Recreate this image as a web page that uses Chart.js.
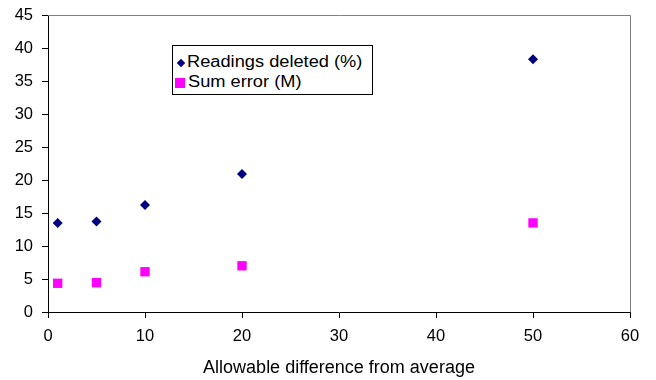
<!DOCTYPE html>
<html><head><meta charset="utf-8">
<script src="https://cdn.jsdelivr.net/npm/chart.js@4/dist/chart.umd.min.js"></script>
<style>
html,body{margin:0;padding:0;background:#fff;}
#wrap{position:relative;width:656px;height:380px;}
#legend{position:absolute;left:172px;top:45px;width:201px;height:50px;border:1px solid #000;background:#fff;font-family:"Liberation Sans",Arial,sans-serif;font-size:16px;line-height:20px;color:#000;box-sizing:border-box;}
#legend .row{position:absolute;white-space:nowrap;transform:scaleX(1.14);transform-origin:0 0;}
.mk{position:absolute;}
</style></head>
<body>
<div id="wrap"><canvas id="c" width="656" height="380"></canvas>
<div id="legend">
<span class="mk" style="left:5px;top:14px;width:6px;height:6px;background:#000080;transform:rotate(45deg)"></span>
<div class="row" style="left:14px;top:6px">Readings deleted (%)</div>
<span class="mk" style="left:2px;top:32px;width:10px;height:10px;background:#ff00ff"></span>
<div class="row" style="left:15px;top:26px">Sum error (M)</div>
</div></div>
<script>
const xValues = [1, 5, 10, 20, 50];
const readingsDeleted = [13.5, 13.7, 16.2, 20.9, 38.3];
const sumError = [4.35, 4.45, 6.1, 7.0, 13.5];
const seriesNames = ["Readings deleted (%)", "Sum error (M)"];
const xTitle = "Allowable difference from average";

const toPts = (ys) => xValues.map((x, i) => ({x: x, y: ys[i]}));
const tickFont = {family: "'Liberation Sans', Arial, sans-serif", size: 16.5};
const titleFont = {family: "'Liberation Sans', Arial, sans-serif", size: 18};

const frame = {
  id: 'frame',
  afterDraw(chart) {
    const {ctx, chartArea: a} = chart;
    ctx.save();
    ctx.strokeStyle = '#808080';
    ctx.lineWidth = 1;
    ctx.beginPath();
    ctx.moveTo(a.left, a.top + 0.5);
    ctx.lineTo(a.right + 0.5, a.top + 0.5);
    ctx.lineTo(a.right + 0.5, a.bottom);
    ctx.stroke();
    ctx.restore();
  }
};

new Chart(document.getElementById('c'), {
  type: 'scatter',
  data: {
    datasets: [
      {label: seriesNames[0], data: toPts(readingsDeleted), pointStyle: 'rectRot', pointRadius: 5, pointHoverRadius: 5,
       backgroundColor: '#000080', borderColor: '#000080', borderWidth: 0},
      {label: seriesNames[1], data: toPts(sumError), pointStyle: 'rect', pointRadius: 6.6, pointHoverRadius: 6.6,
       backgroundColor: '#ff00ff', borderColor: '#ff00ff', borderWidth: 0}
    ]
  },
  options: {
    responsive: false,
    animation: false,
    layout: {padding: {top: 15, right: 26, left: 0, bottom: 0}},
    plugins: {legend: {display: false}, tooltip: {enabled: false}},
    scales: {
      x: {
        type: 'linear', min: 0, max: 60,
        ticks: {stepSize: 10, color: '#000', font: tickFont, padding: 9},
        grid: {drawOnChartArea: false, color: '#000', tickLength: 6},
        border: {color: '#000', width: 1},
        title: {display: true, text: xTitle, color: '#000', font: titleFont, padding: {top: 6, bottom: 1}},
        afterFit(s) { s.height = 68; }
      },
      y: {
        type: 'linear', min: 0, max: 45,
        ticks: {stepSize: 5, color: '#000', font: tickFont, padding: 9},
        grid: {drawOnChartArea: false, color: '#000', tickLength: 6},
        border: {color: '#000', width: 1},
        afterFit(s) { s.width = 48; s.paddingTop = 0; s.paddingBottom = 0; }
      }
    }
  },
  plugins: [frame]
});
</script>
</body></html>
